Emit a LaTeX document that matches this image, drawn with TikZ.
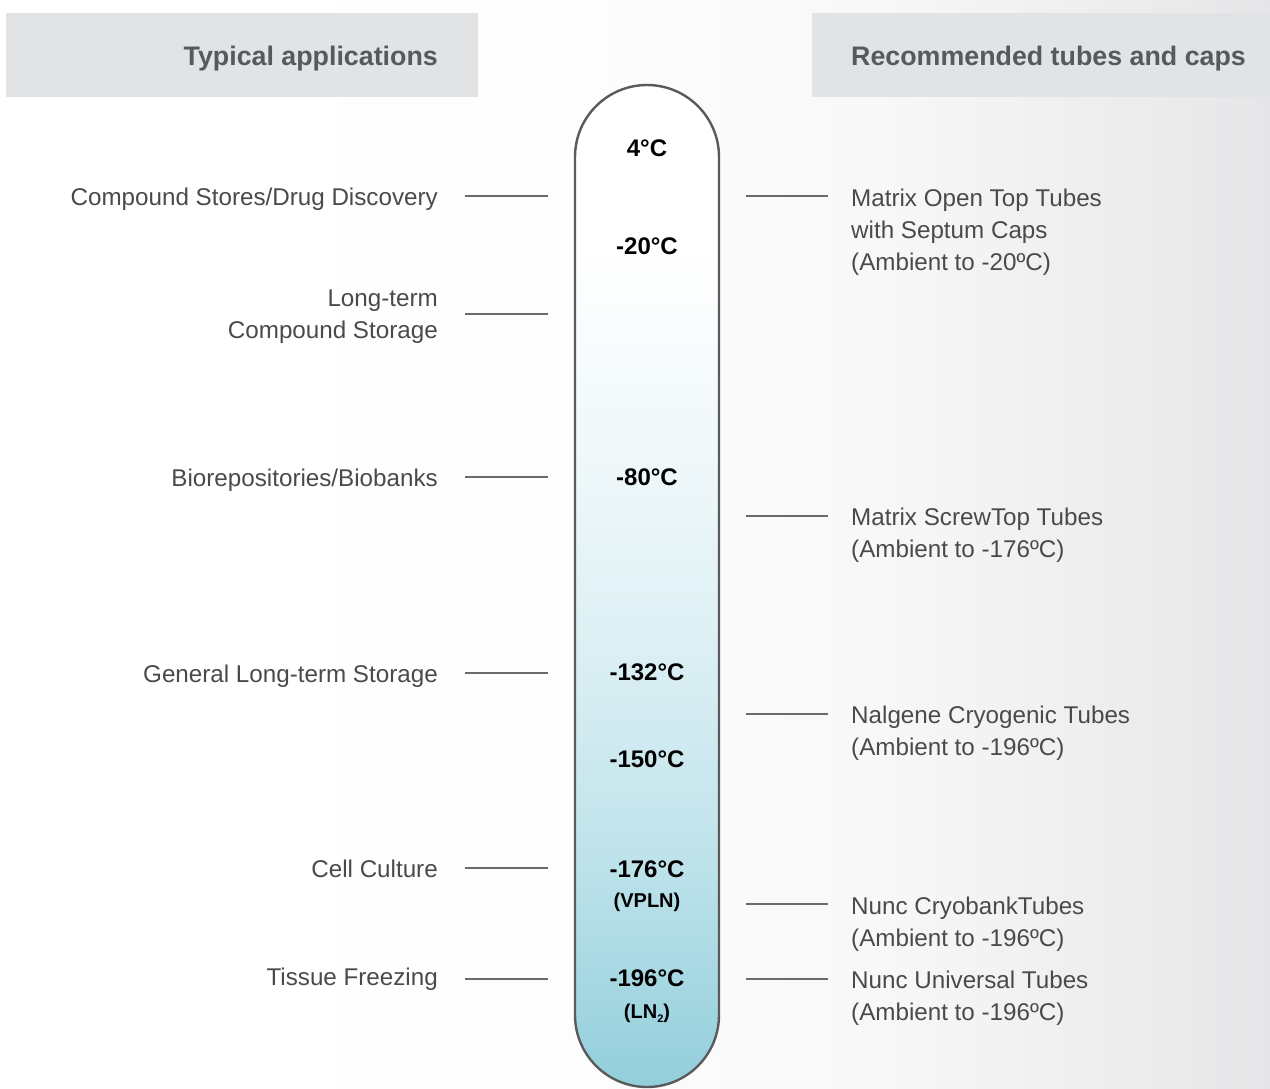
\documentclass[tikz,border=0pt]{standalone}
\usepackage{fontspec}
\setmainfont{Liberation Sans}
\usetikzlibrary{calc}
\definecolor{hdrfill}{HTML}{E2E3E5}
\definecolor{hdrtext}{HTML}{58595B}
\definecolor{lbltext}{HTML}{4A4A4C}
\definecolor{linegray}{HTML}{6A6A6C}
\definecolor{tubeline}{HTML}{5A5A5C}
\definecolor{bgright}{HTML}{E6E6E8}
\definecolor{tubeA}{HTML}{92CEDB}
\definecolor{tubeB}{HTML}{BDE2EA}
\definecolor{tubeC}{HTML}{D9EEF3}
\definecolor{tubeD}{HTML}{EEF7F9}
\pgfdeclareverticalshading{tubeshade}{100bp}{color(0bp)=(tubeA); color(25bp)=(tubeA); color(36bp)=(tubeB); color(45.7bp)=(tubeC); color(55.4bp)=(tubeD); color(67bp)=(white); color(100bp)=(white)}
\pgfdeclarehorizontalshading{bgshade}{100bp}{color(0bp)=(white); color(25bp)=(white); color(45bp)=(white!97!bgright); color(60bp)=(white!70!bgright); color(75bp)=(bgright); color(100bp)=(bgright)}
\tikzset{
  hdrbox/.style={fill=hdrfill, draw=none},
  hdrlabel/.style={text=hdrtext, font=\fontsize{26.8}{30}\selectfont\bfseries, inner sep=0pt},
  leftlbl/.style={text=lbltext, font=\fontsize{24.2}{32}\selectfont, align=right, anchor=base east, inner sep=0pt},
  rightlbl/.style={text=lbltext, font=\fontsize{24.2}{32}\selectfont, align=left, anchor=base west, inner sep=0pt},
  temp/.style={text=black, font=\fontsize{24}{26}\selectfont\bfseries, anchor=base, inner sep=0pt},
  subtemp/.style={text=black, font=\fontsize{20}{22}\selectfont\bfseries, anchor=base, inner sep=0pt},
  tick/.style={draw=linegray, line width=1.3pt},
}
\begin{document}
\begin{tikzpicture}[x=1pt,y=-1pt]
\useasboundingbox (0,0) rectangle (1270,1088);
% background
\shade[shading=bgshade] (0,0) rectangle (1270,1088);
% headers
\path[hdrbox] (6,13) rectangle (478,97);
\path[hdrbox] (812,13) rectangle (1270,97);
\node[hdrlabel, anchor=base east] (hL) at (438,65) {Typical applications};
\node[hdrlabel, anchor=base west] (hR) at (851,65) {Recommended tubes and caps};
% tube
\shade[shading=tubeshade, rounded corners=72pt] (575,85) rectangle (719,1087);
\draw[draw=tubeline, line width=2.4pt, rounded corners=72pt] (575,85) rectangle (719,1087);
% temperatures
\node[temp] (t4) at (647,156) {4°C};
\node[temp] (t20) at (647,254) {-20°C};
\node[temp] (t80) at (647,485) {-80°C};
\node[temp] (t132) at (647,680) {-132°C};
\node[temp] (t150) at (647,767) {-150°C};
\node[temp] (t176) at (647,877) {-176°C};
\node[subtemp] (vpln) at (647,907) {(VPLN)};
\node[temp] (t196) at (647,986) {-196°C};
\node[subtemp] (ln2) at (647,1018) {(LN\raisebox{-4pt}{\fontsize{11}{11}\selectfont 2})};
% left labels
\node[leftlbl] (cs) at (438,205) {Compound Stores/Drug Discovery};
\node[leftlbl] (lt) at (438,338) {Long-term\\Compound Storage};
\node[leftlbl] (bio) at (438,486) {Biorepositories/Biobanks};
\node[leftlbl] (gen) at (438,682) {General Long-term Storage};
\node[leftlbl] (cell) at (438,877) {Cell Culture};
\node[leftlbl] (tis) at (438,985) {Tissue Freezing};
% right labels
\node[rightlbl] (mo) at (851,270) {Matrix Open Top Tubes\\with Septum Caps\\(Ambient to -20ºC)};
\node[rightlbl] (ms) at (851,557) {Matrix ScrewTop Tubes\\(Ambient to -176ºC)};
\node[rightlbl] (nc) at (851,755) {Nalgene Cryogenic Tubes\\(Ambient to -196ºC)};
\node[rightlbl] (nb) at (851,946) {Nunc CryobankTubes\\(Ambient to -196ºC)};
\node[rightlbl] (nu) at (851,1020) {Nunc Universal Tubes\\(Ambient to -196ºC)};
% left ticks
\coordinate (lcs) at (465,196);  \draw[tick] (lcs) -- ++(83,0);
\coordinate (llt) at (465,314);  \draw[tick] (llt) -- ++(83,0);
\coordinate (lbio) at (465,477); \draw[tick] (lbio) -- ++(83,0);
\coordinate (lgen) at (465,673); \draw[tick] (lgen) -- ++(83,0);
\coordinate (lcell) at (465,868); \draw[tick] (lcell) -- ++(83,0);
\coordinate (ltis) at (465,979); \draw[tick] (ltis) -- ++(83,0);
% right ticks
\coordinate (rmo) at (746,196); \draw[tick] (rmo) -- ++(82,0);
\coordinate (rms) at (746,516); \draw[tick] (rms) -- ++(82,0);
\coordinate (rnc) at (746,714); \draw[tick] (rnc) -- ++(82,0);
\coordinate (rnb) at (746,904); \draw[tick] (rnb) -- ++(82,0);
\coordinate (rnu) at (746,979); \draw[tick] (rnu) -- ++(82,0);
\end{tikzpicture}
\end{document}
